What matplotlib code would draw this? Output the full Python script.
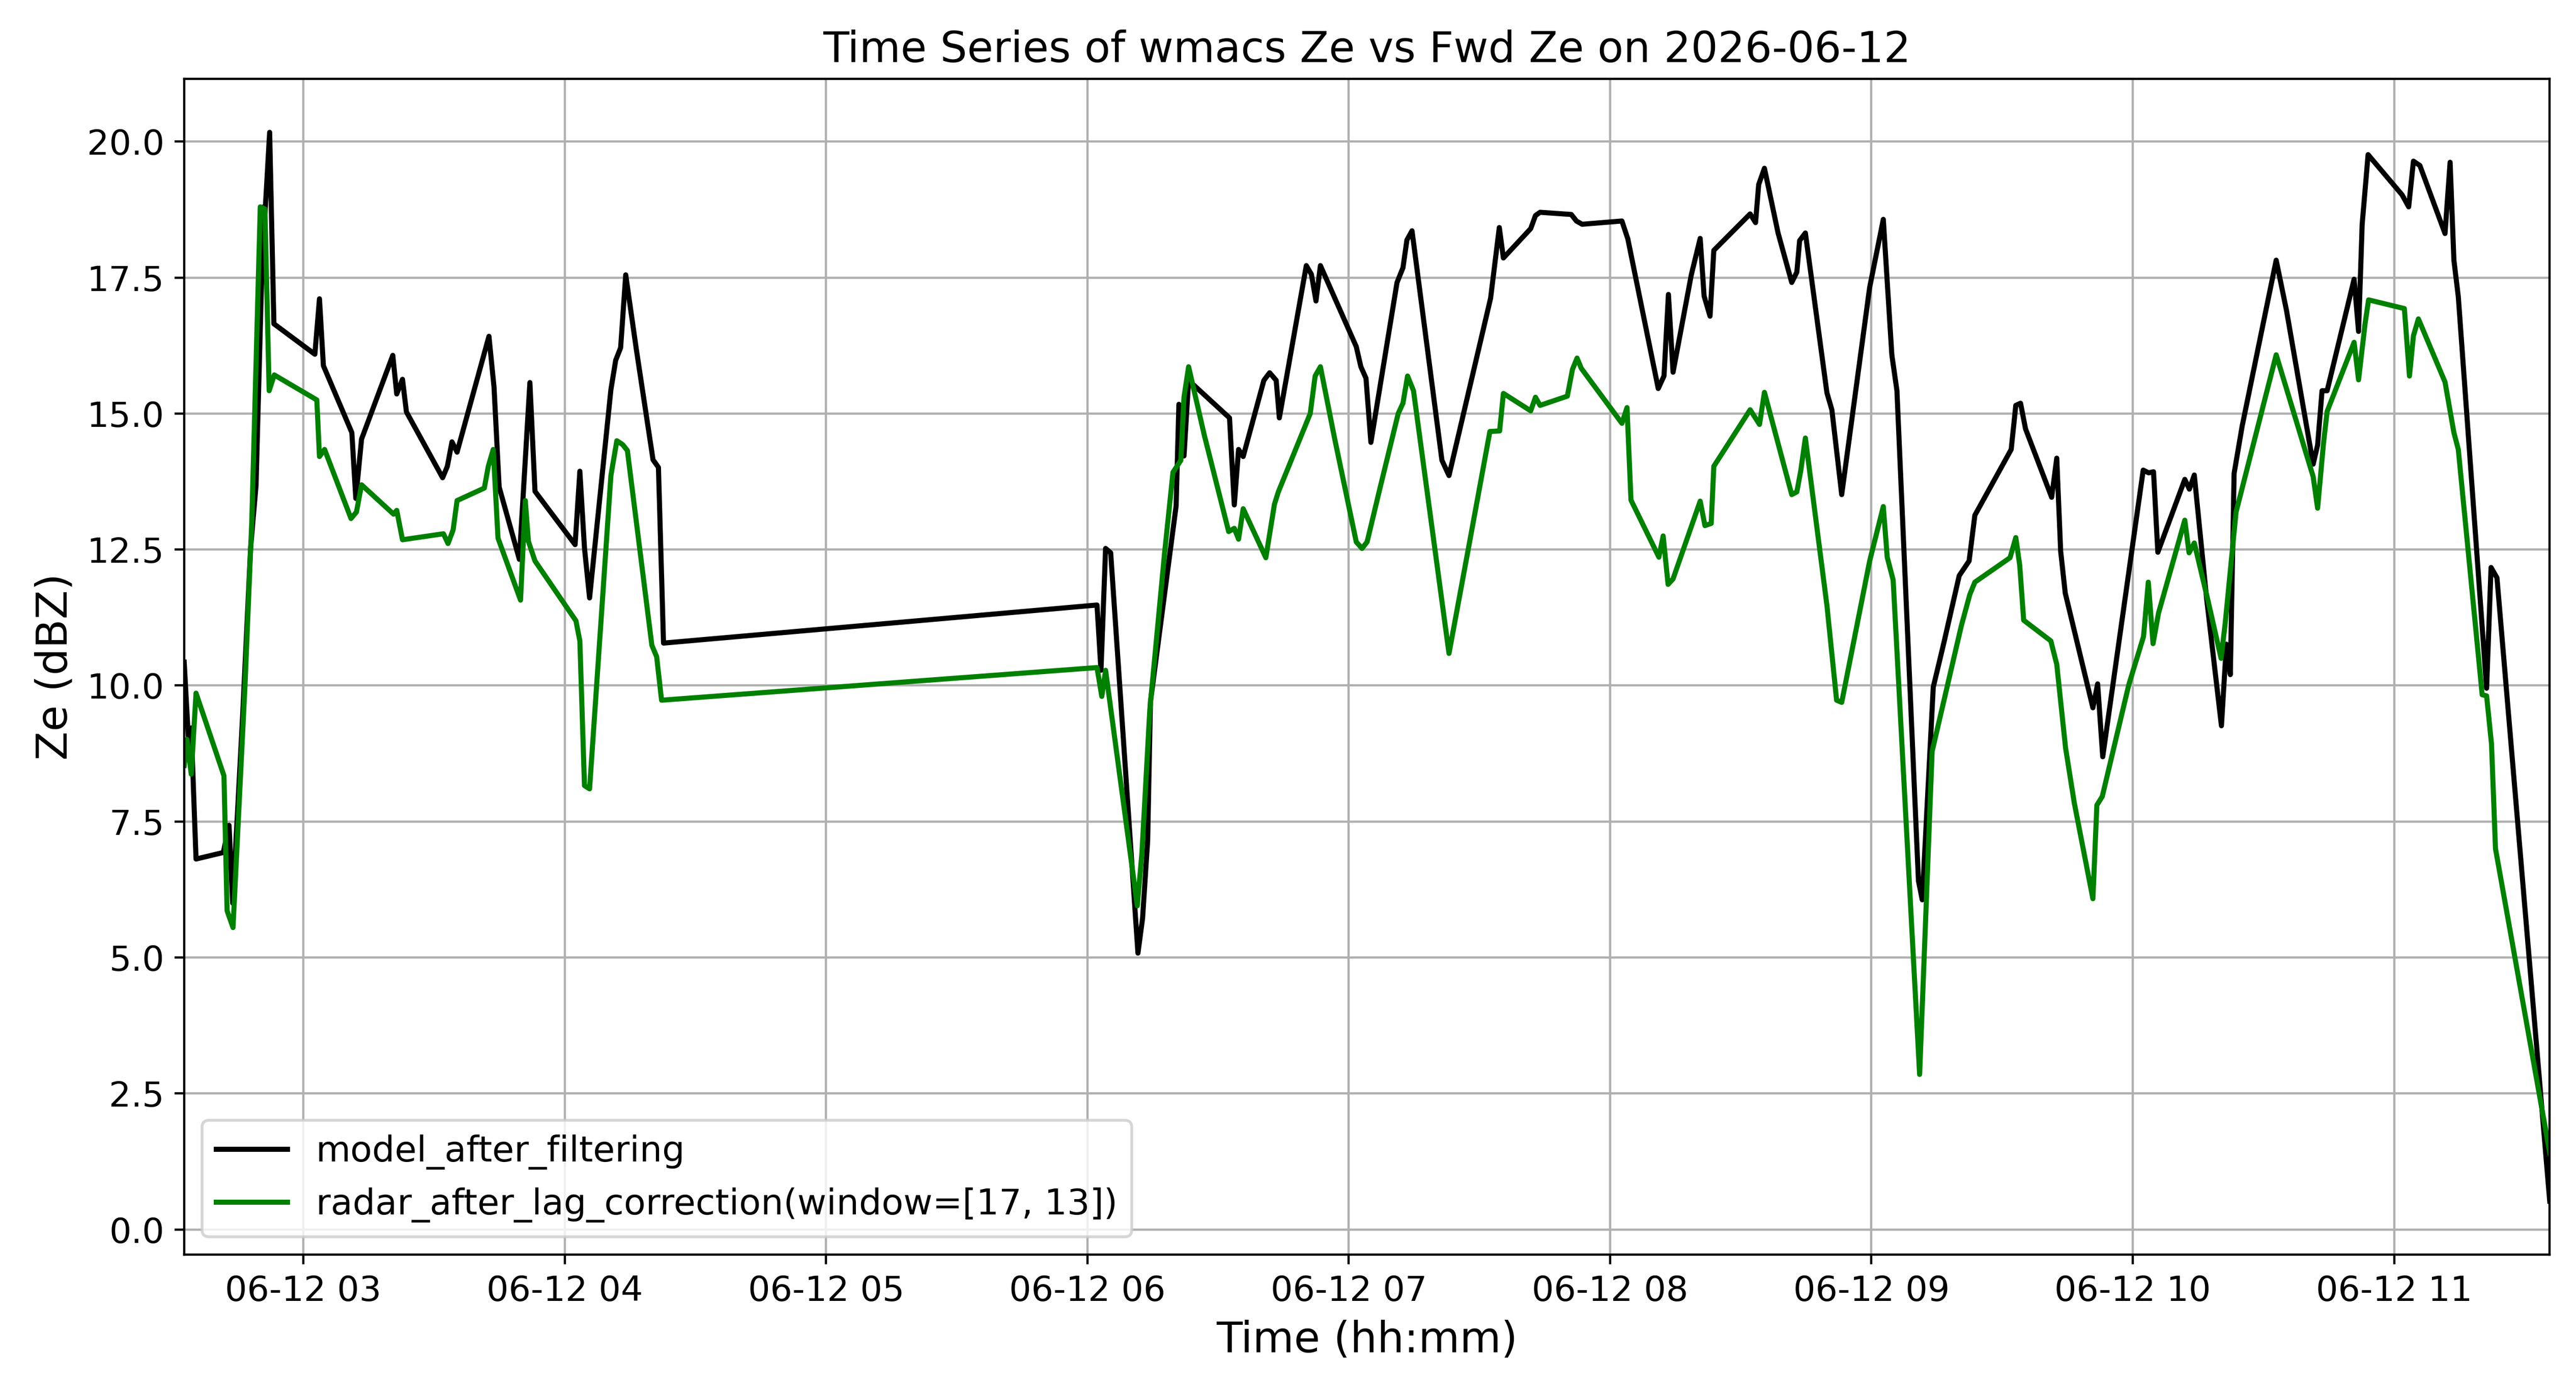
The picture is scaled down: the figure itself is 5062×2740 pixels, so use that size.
"""
Time series of wmacs Ze vs forward-model Ze for 2026-06-12
"""

import pandas as pd
import matplotlib
matplotlib.use("Agg")
import matplotlib.pyplot as plt
import matplotlib.dates as mdates

DAY = "2026-06-12"
BASE = pd.Timestamp(f"{DAY} 03:00")

# ---------------------------------------------------------------------------
# Data (minutes after 03:00, Ze in dBZ)
# ---------------------------------------------------------------------------
model_min = [
    -27.36, -26.42, -25.74, -24.64, -18.38, -17.06, -16.23, -13.93, -12.11, -10.87,
    -9.13, -8.79, -7.74, -6.76, 2.64, 3.70, 4.60, 11.13, 12.04, 13.36,
    20.53, 21.44, 22.76, 23.66, 31.97, 33.06, 34.12, 35.29, 41.55, 42.61,
    43.78, 44.95, 49.59, 52.01, 53.18, 62.39, 63.48, 64.54, 65.71, 70.61,
    71.71, 72.84, 74.01, 76.43, 80.28, 81.52, 82.69, 182.21, 183.12, 184.18,
    185.35, 191.61, 192.67, 193.84, 194.48, 200.37, 201.01, 202.18, 203.24, 212.63,
    213.73, 214.71, 215.77, 220.52, 221.84, 223.35, 224.07, 230.26, 231.43, 232.48,
    233.50, 241.73, 242.79, 243.96, 245.09, 251.09, 252.45, 253.36, 254.53, 261.40,
    263.02, 272.57, 274.57, 275.51, 281.78, 282.87, 283.93, 291.10, 292.27, 293.59,
    302.72, 304.08, 311.06, 312.38, 313.40, 314.46, 318.65, 320.69, 321.59, 322.95,
    323.82, 332.16, 333.40, 334.12, 335.44, 338.57, 341.71, 342.88, 343.52, 344.84,
    349.79, 350.92, 353.18, 359.60, 362.73, 364.69, 365.86, 370.80, 371.67, 374.20,
    376.62, 380.16, 382.43, 383.75, 392.09, 393.15, 394.24, 395.38, 401.38, 402.55,
    403.45, 404.50, 410.85, 411.94, 413.11, 422.40, 423.64, 424.77, 425.76, 431.95,
    433.00, 434.13, 436.97, 440.36, 441.50, 442.40, 443.27, 445.12, 452.93, 455.31,
    461.42, 462.44, 463.46, 464.63, 470.82, 471.84, 472.67, 474.03, 481.84, 483.35,
    484.44, 485.92, 491.69, 492.86, 493.73, 494.74, 501.24, 502.26, 503.62, 515.73,
]
model_ze = [
    10.43, 9.07, 9.22, 6.81, 6.93, 7.43, 6.0, 9.46, 12.53, 13.67,
    18.80, 18.70, 20.17, 16.65, 16.09, 17.11, 15.88, 14.65, 13.44, 14.53,
    16.07, 15.36, 15.63, 15.03, 13.82, 14.03, 14.48, 14.29, 16.11, 16.42,
    15.48, 13.65, 12.32, 15.57, 13.57, 12.59, 13.94, 12.53, 11.61, 15.44,
    15.98, 16.21, 17.55, 16.19, 14.15, 14.01, 10.78, 11.48, 10.28, 12.52,
    12.44, 5.08, 5.72, 7.15, 9.70, 13.30, 15.17, 14.22, 15.61, 14.92,
    13.32, 14.34, 14.21, 15.61, 15.75, 15.61, 14.92, 17.72, 17.56, 17.07,
    17.72, 16.23, 15.86, 15.65, 14.47, 17.41, 17.68, 18.19, 18.36, 14.14,
    13.86, 17.12, 18.42, 17.86, 18.40, 18.64, 18.70, 18.66, 18.54, 18.48,
    18.54, 18.21, 15.46, 15.69, 17.19, 15.76, 17.55, 18.22, 17.16, 16.79,
    18.00, 18.67, 18.51, 19.21, 19.51, 18.32, 17.41, 17.60, 18.18, 18.32,
    15.38, 15.07, 13.51, 17.32, 18.57, 16.08, 15.42, 6.41, 6.06, 9.97,
    10.78, 12.02, 12.29, 13.13, 14.34, 15.15, 15.19, 14.72, 13.46, 14.18,
    12.47, 11.70, 9.59, 10.03, 8.69, 13.96, 13.91, 13.93, 12.45, 13.79,
    13.61, 13.87, 11.59, 9.26, 10.76, 10.20, 13.90, 14.77, 17.82, 16.89,
    14.07, 14.42, 15.42, 15.42, 17.47, 16.51, 18.48, 19.76, 19.02, 18.80,
    19.64, 19.56, 18.31, 19.62, 17.82, 17.15, 9.95, 12.17, 11.98, 0.52,
]

radar_min = [
    -27.36, -26.72, -25.74, -24.64, -18.23, -17.51, -16.15, -13.40, -11.85, -9.89,
    -8.83, -7.85, -6.68, 3.09, 3.70, 4.87, 10.94, 12.19, 13.36, 20.72,
    21.44, 22.76, 32.16, 33.21, 34.38, 35.29, 41.55, 42.46, 43.59, 44.69,
    49.86, 50.95, 51.67, 53.18, 62.58, 63.48, 64.54, 65.71, 70.61, 71.97,
    73.29, 74.39, 80.01, 81.11, 82.24, 182.21, 183.31, 184.18, 191.46, 192.52,
    194.33, 197.69, 199.65, 201.46, 202.18, 203.24, 206.82, 212.44, 213.73, 214.71,
    215.77, 220.97, 222.94, 223.84, 231.16, 232.29, 233.50, 236.79, 241.73, 243.05,
    244.22, 247.09, 251.36, 252.45, 253.51, 254.87, 263.02, 267.66, 272.41, 274.64,
    275.51, 281.78, 282.87, 283.93, 290.19, 291.36, 292.42, 293.40, 302.72, 303.89,
    304.80, 311.21, 312.19, 313.32, 314.46, 320.69, 321.78, 323.22, 323.82, 332.16,
    334.31, 335.44, 341.71, 342.88, 343.78, 344.84, 349.79, 352.01, 353.18, 359.60,
    362.73, 363.63, 364.99, 371.07, 373.94, 380.62, 382.58, 383.75, 391.83, 393.15,
    394.05, 394.96, 401.19, 402.55, 404.58, 406.58, 410.85, 411.76, 413.00, 419.08,
    422.47, 423.57, 424.66, 425.91, 431.95, 432.93, 434.13, 437.31, 440.28, 441.23,
    443.72, 452.93, 461.42, 462.44, 463.80, 464.63, 470.82, 471.84, 473.35, 474.14,
    482.36, 483.53, 484.44, 485.58, 491.69, 493.73, 494.74, 500.22, 501.24, 502.37,
    503.28, 515.73,
]
radar_ze = [
    8.53, 9.01, 8.37, 9.86, 8.34, 5.86, 5.55, 10.0, 13.0, 18.80,
    18.76, 15.42, 15.71, 15.25, 14.21, 14.34, 13.07, 13.19, 13.69, 13.15,
    13.22, 12.68, 12.79, 12.61, 12.86, 13.40, 13.63, 14.03, 14.34, 12.71,
    11.57, 13.40, 12.65, 12.29, 11.19, 10.82, 8.16, 8.10, 13.86, 14.50,
    14.43, 14.32, 10.74, 10.53, 9.73, 10.33, 9.80, 10.28, 5.95, 6.92,
    9.55, 12.41, 13.92, 14.14, 15.30, 15.86, 14.61, 12.83, 12.89, 12.69,
    13.25, 12.35, 13.33, 13.56, 15.00, 15.69, 15.86, 14.53, 12.64, 12.52,
    12.64, 13.60, 15.00, 15.19, 15.69, 15.42, 10.59, 12.60, 14.67, 14.68,
    15.37, 15.05, 15.30, 15.15, 15.32, 15.81, 16.02, 15.83, 14.82, 15.11,
    13.41, 12.36, 12.75, 11.86, 11.96, 13.39, 12.94, 12.98, 14.03, 15.07,
    14.80, 15.39, 13.51, 13.56, 13.95, 14.55, 11.47, 9.73, 9.69, 12.29,
    13.29, 12.36, 11.94, 2.85, 8.79, 11.09, 11.67, 11.90, 12.35, 12.72,
    12.21, 11.20, 10.82, 10.39, 8.85, 7.84, 6.08, 7.80, 7.96, 10.01,
    10.90, 11.90, 10.77, 11.33, 13.04, 12.44, 12.62, 11.55, 10.50, 11.15,
    13.19, 16.08, 13.84, 13.26, 14.46, 15.04, 16.31, 15.62, 16.66, 17.09,
    16.93, 15.69, 16.43, 16.74, 15.58, 14.65, 14.34, 9.83, 9.81, 8.92,
    7.00, 1.41,
]

model_t = BASE + pd.to_timedelta(model_min, unit="min")
radar_t = BASE + pd.to_timedelta(radar_min, unit="min")

# ---------------------------------------------------------------------------
# Plot
# ---------------------------------------------------------------------------
fig = plt.figure(figsize=(5062 / 400, 2740 / 400), dpi=400)
ax = fig.add_axes([0.0715, 0.100, 0.9183, 0.8434])

ax.plot(model_t, model_ze, color="black", linewidth=1.8, label="model_after_filtering")
ax.plot(radar_t, radar_ze, color="green", linewidth=1.8,
        label="radar_after_lag_correction(window=[17, 13])")

ax.set_title(f"Time Series of wmacs Ze vs Fwd Ze on {DAY}", fontsize=15)
ax.set_xlabel("Time (hh:mm)", fontsize=15)
ax.set_ylabel("Ze (dBZ)", fontsize=15)

ax.xaxis.set_major_locator(mdates.HourLocator(interval=1))
ax.xaxis.set_major_formatter(mdates.DateFormatter("%m-%d %H"))
ax.margins(x=0)
ax.tick_params(labelsize=12.3)
ax.grid(True)
ax.legend(loc="lower left", fontsize=12.6)

fig.savefig("out.png", dpi=400)
print("Saved: out.png")
